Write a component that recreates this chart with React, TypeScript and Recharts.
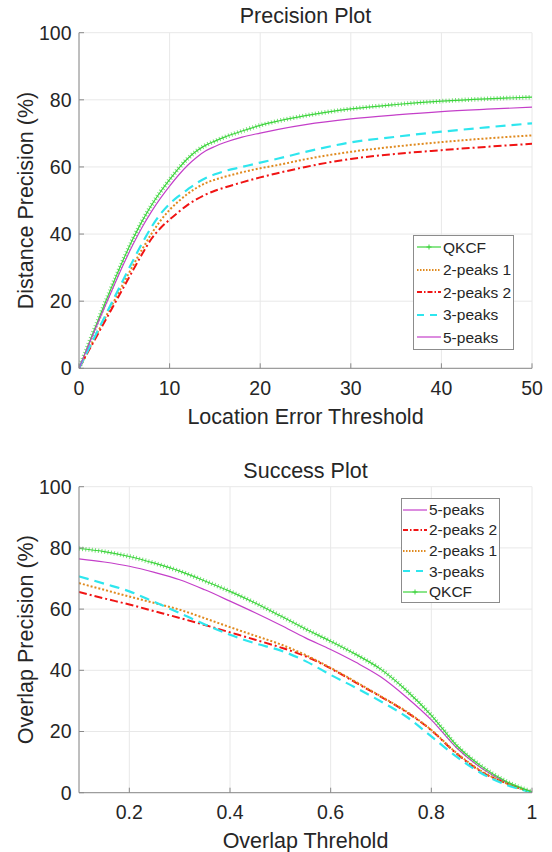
import { LineChart, Line, XAxis, YAxis, CartesianGrid, Legend } from 'recharts';

const FONT = '"Liberation Sans", Arial, Helvetica, sans-serif';
const INK = '#262626';
const AXIS = '#8a8a8a';
const GRID = '#e8e8e8';

// precision plot (location error threshold, px)
const thresholds = [0, 1, 2, 3, 4, 5, 6, 7, 8, 9, 10, 11, 12, 13, 14, 15, 16, 18, 20, 22, 25, 30, 35, 40, 45, 50];
const precQkcf = [0, 6.8, 13.6, 20.3, 26.8, 33, 38.8, 44, 48.6, 52.6, 56.2, 59.6, 62.5, 64.8, 66.5, 67.7, 68.8, 70.7, 72.4, 73.7, 75.3, 77.3, 78.6, 79.6, 80.3, 80.8];
const prec2p1 = [0, 5.2, 10.4, 15.6, 20.7, 25.8, 30.8, 35.6, 40.1, 44, 47.2, 49.8, 52, 53.8, 55.2, 56.2, 57, 58.4, 59.6, 60.6, 62.3, 64.5, 66.1, 67.4, 68.5, 69.4];
const prec2p2 = [0, 4.9, 9.8, 14.7, 19.6, 24.5, 29.4, 34.2, 38.6, 41.8, 44.3, 46.6, 48.7, 50.4, 51.8, 52.9, 53.8, 55.4, 56.9, 58.2, 60, 62.4, 63.9, 65, 66, 66.9];
const prec3p = [0, 5.4, 10.8, 16.2, 21.6, 27, 32.3, 37.4, 42.1, 46, 49, 51.3, 53.3, 55.2, 56.7, 57.8, 58.7, 60, 61.3, 62.5, 64.5, 67.3, 69, 70.5, 71.8, 73];
const prec5p = [0, 6.5, 13, 19.3, 25.5, 31.5, 37.1, 42.2, 46.7, 50.7, 54.3, 57.6, 60.5, 62.9, 64.8, 66.1, 67.2, 68.9, 70.1, 71.2, 72.6, 74.3, 75.5, 76.5, 77.2, 77.8];

// success plot (overlap threshold)
const overlaps = [0.1, 0.15, 0.2, 0.25, 0.3, 0.35, 0.4, 0.45, 0.5, 0.55, 0.6, 0.65, 0.7, 0.75, 0.8, 0.85, 0.9, 0.95, 1];
const succQkcf = [79.8, 78.8, 77.2, 75, 72.4, 69.2, 65.8, 62, 57.8, 53.5, 49.5, 45.2, 40.3, 33.5, 25.3, 15.5, 8.6, 3.6, 0.3];
const succ2p1 = [68.5, 66.3, 64.1, 62, 59.8, 57, 54.1, 51.3, 48.5, 45, 40.8, 36.2, 31.5, 26.6, 20.5, 13, 7, 3, 0.2];
const succ2p2 = [65.6, 63.5, 61.5, 59.3, 57.1, 54.8, 52.4, 50, 47.5, 44.6, 40.6, 36, 31.3, 26.4, 20.4, 12.8, 6.8, 3, 0.2];
const succ3p = [70.7, 68.3, 65.8, 62.3, 58.7, 55, 51.6, 48.8, 46.5, 43, 38.5, 34.3, 29.8, 24.9, 18.4, 11.8, 6.3, 2.5, 0.2];
const succ5p = [76.4, 75.4, 74, 72, 69.6, 66.3, 62.6, 58.8, 54.8, 50.6, 46.8, 42.6, 37.8, 31.3, 23.8, 14.7, 8, 3.3, 0.2];

const precTicks = [0, 10, 20, 30, 40, 50];
const succTicks = [0.2, 0.4, 0.6, 0.8, 1];
const pctTicks = [0, 20, 40, 60, 80, 100];

const precOrder = ['qkcf', 'p21', 'p22', 'p3', 'p5'];
const succOrder = ['p5', 'p22', 'p21', 'p3', 'qkcf'];

const SERIES: Record<string, any> = {
  qkcf: { name: 'QKCF', color: '#3cd43c', width: 1.2, marker: true },
  p21: { name: '2-peaks 1', color: '#e08a1f', width: 2, dash: '2 2', legendDash: '1.5 1.5' },
  p22: { name: '2-peaks 2', color: '#f01414', width: 2, dash: '8 3 2 3', legendDash: '5 2 1.5 2' },
  p3: { name: '3-peaks', color: '#2ee6ee', width: 2.2, dash: '10 6', legendDash: '7 6' },
  p5: { name: '5-peaks', color: '#c43fc9', width: 1.2 },
};

const precRows = thresholds.map((x, i) => ({
  x, qkcf: precQkcf[i], p21: prec2p1[i], p22: prec2p2[i], p3: prec3p[i], p5: prec5p[i],
}));
const succRows = overlaps.map((x, i) => ({
  x, qkcf: succQkcf[i], p21: succ2p1[i], p22: succ2p2[i], p3: succ3p[i], p5: succ5p[i],
}));

function LegendBox(props: any) {
  const { payload, order, rowH, padLeft } = props;
  const items = order
    .map((k: string) => (payload || []).find((p: any) => p.dataKey === k))
    .filter(Boolean);
  return (
    <div
      style={{
        border: '1px solid #8c8c8c', background: '#fff', boxSizing: 'border-box',
        paddingLeft: padLeft, fontSize: 15.5, color: INK, lineHeight: 1,
      }}
    >
      {items.map((it: any) => {
        const s = SERIES[it.dataKey];
        return (
          <div key={it.dataKey} style={{ display: 'flex', alignItems: 'center', height: rowH, whiteSpace: 'nowrap' }}>
            <svg width={24} height={10} style={{ marginRight: 2, flex: 'none' }}>
              <line x1={0} y1={5} x2={24} y2={5} stroke={s.color} strokeWidth={s.width > 1.5 ? 2 : 1.2} strokeDasharray={s.legendDash} />
              {s.marker && <path d="M12 2.5 V7.5 M9.5 5 H14.5" stroke={s.color} strokeWidth={1} />}
            </svg>
            <span>{it.value}</span>
          </div>
        );
      })}
    </div>
  );
}

function renderLines(order: string[]) {
  const out: any[] = [];
  order.forEach((k) => {
    const s = SERIES[k];
    out.push(
      <Line key={k} type="monotone" dataKey={k} name={s.name} stroke={s.color} strokeWidth={s.width}
        strokeDasharray={s.dash} dot={false} activeDot={false} isAnimationActive={false} />
    );
    if (s.marker) {
      // dense "+" markers of the QKCF curve
      out.push(
        <Line key={k + '-m'} type="monotone" dataKey={k} stroke={s.color} strokeWidth={4.5} strokeOpacity={0.7}
          strokeDasharray="1 2.2" dot={false} activeDot={false} legendType="none" isAnimationActive={false} />
      );
    }
  });
  return out;
}

const tickStyle = { fill: INK, fontSize: 19.5 };
const labelStyle = { fill: INK, fontSize: 21.5 };

function PlotPanel(props: any) {
  const { rows, height, margin, domain, ticks, xLabel, xLabelOffset, yLabel, order, legendPos, rowH, padLeft } = props;
  return (
    <LineChart width={552} height={height} data={rows} margin={margin}>
      <CartesianGrid stroke={GRID} />
      <XAxis dataKey="x" type="number" domain={domain} ticks={ticks} allowDataOverflow height={30}
        tickSize={-5} tickMargin={17.8} stroke={AXIS} tick={tickStyle}
        label={{ value: xLabel, position: 'bottom', offset: xLabelOffset, ...labelStyle }} />
      <XAxis xAxisId="top" orientation="top" type="number" domain={domain} ticks={ticks} allowDataOverflow height={0}
        tickSize={-5} stroke={AXIS} tick={() => <g />} />
      <YAxis type="number" domain={[0, 100]} ticks={pctTicks} allowDataOverflow width={50}
        tickSize={-5} tickMargin={12.5} stroke={AXIS} tick={tickStyle}
        label={{ value: yLabel, angle: -90, position: 'left', offset: 4, style: { textAnchor: 'middle' }, ...labelStyle }} />
      <YAxis yAxisId="right" orientation="right" type="number" domain={[0, 100]} ticks={pctTicks} allowDataOverflow width={0}
        tickSize={-5} stroke={AXIS} tick={() => <g />} />
      {renderLines(order)}
      <Legend layout="vertical" align="center" verticalAlign="middle"
        wrapperStyle={{ left: legendPos.left, top: legendPos.top, width: legendPos.width, height: 'auto' }}
        content={(p: any) => <LegendBox {...p} order={order} rowH={rowH} padLeft={padLeft} />} />
    </LineChart>
  );
}

function Title({ text, top }: { text: string; top: number }) {
  return (
    <div style={{ position: 'absolute', left: 79, width: 453, top, textAlign: 'center', fontSize: 21.5, lineHeight: 1, color: INK }}>
      {text}
    </div>
  );
}

export default function App() {
  return (
    <div style={{ position: 'absolute', left: 0, top: 0, width: 552, height: 852, background: '#fff', fontFamily: FONT, overflow: 'hidden' }}>
      <div style={{ position: 'absolute', left: 0, top: 0 }}>
        <PlotPanel rows={precRows} height={430} margin={{ top: 32.7, right: 20, bottom: 31.7, left: 29 }}
          domain={[0, 50]} ticks={precTicks}
          xLabel="Location Error Threshold" xLabelOffset={10.4} yLabel="Distance Precision (%)"
          order={precOrder} legendPos={{ left: 413, top: 235, width: 101 }} rowH={22.5} padLeft={3} />
      </div>
      <div style={{ position: 'absolute', left: 0, top: 430 }}>
        <PlotPanel rows={succRows} height={422} margin={{ top: 56.7, right: 20, bottom: 29.3, left: 29 }}
          domain={[0.1, 1]} ticks={succTicks}
          xLabel="Overlap Threhold" xLabelOffset={10} yLabel="Overlap Precision (%)"
          order={succOrder} legendPos={{ left: 401, top: 68.3, width: 99 }} rowH={20.6} padLeft={1} />
      </div>
      <Title text="Precision Plot" top={5.8} />
      <Title text="Success Plot" top={461.1} />
    </div>
  );
}
